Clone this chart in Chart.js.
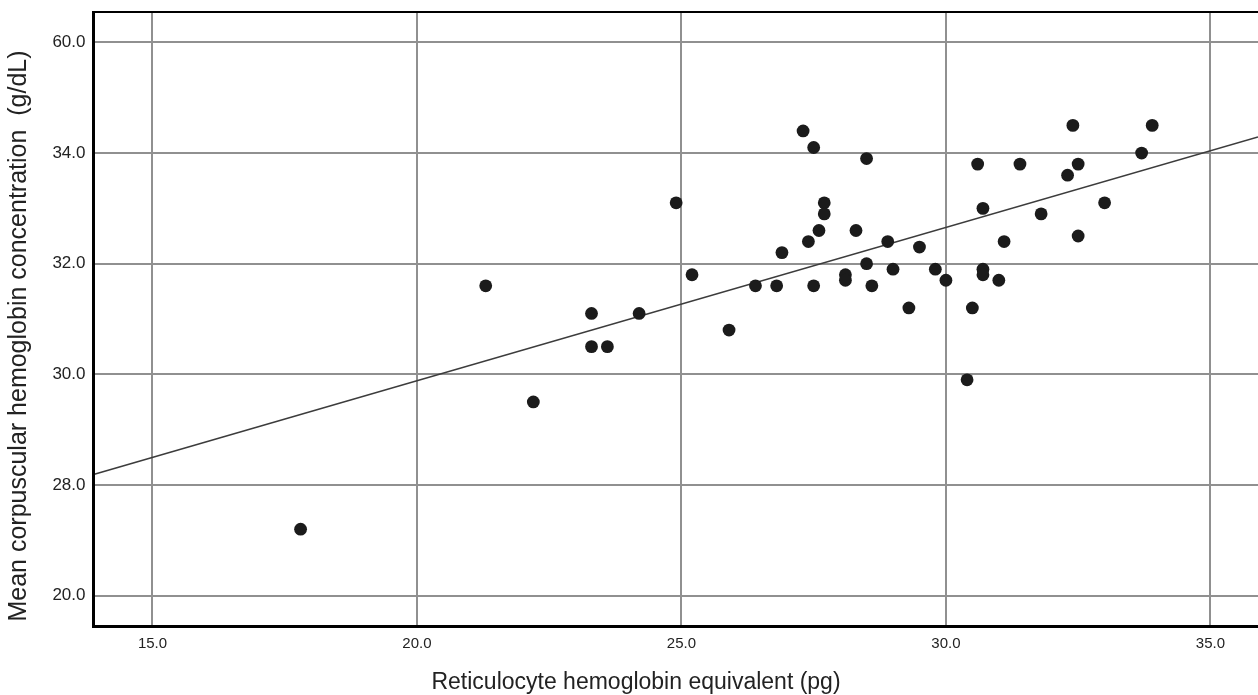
<!DOCTYPE html>
<html>
<head>
<meta charset="utf-8">
<title>Reticulocyte hemoglobin vs MCHC</title>
<script src="https://cdn.jsdelivr.net/npm/chart.js@4.4.1/dist/chart.umd.min.js"></script>
<style>
    html, body { margin: 0; padding: 0; background: #fff; }
    #wrap { width: 1258px; height: 695px; }
</style>
</head>
<body>
<div id="wrap"><canvas id="scatterChart" width="1258" height="695"></canvas></div>
<script>
// Reticulocyte hemoglobin equivalent (pg)
const retHe = [
    17.8, 21.3, 22.2, 23.3, 23.3, 23.6, 24.2, 24.9, 25.2, 25.9,
    26.4, 26.8, 26.9, 27.3, 27.4, 27.5, 27.5, 27.6, 27.7, 27.7,
    28.1, 28.1, 28.3, 28.5, 28.5, 28.6, 28.9, 29.0, 29.3, 29.5,
    29.8, 30.0, 30.4, 30.5, 30.6, 30.7, 30.7, 30.7, 31.0, 31.1,
    31.4, 31.8, 32.3, 32.4, 32.5, 32.5, 33.0, 33.7, 33.9
];
// Mean corpuscular hemoglobin concentration (g/dL)
const mchc = [
    27.2, 31.6, 29.5, 31.1, 30.5, 30.5, 31.1, 33.1, 31.8, 30.8,
    31.6, 31.6, 32.2, 34.4, 32.4, 34.1, 31.6, 32.6, 33.1, 32.9,
    31.8, 31.7, 32.6, 33.9, 32.0, 31.6, 32.4, 31.9, 31.2, 32.3,
    31.9, 31.7, 29.9, 31.2, 33.8, 33.0, 31.9, 31.8, 31.7, 32.4,
    33.8, 32.9, 33.6, 34.5, 33.8, 32.5, 33.1, 34.0, 34.5
];

// fit line end points
const fitX = [13.885, 35.9];
const fitY = [28.19, 34.29];

const xTicks = [15, 20, 25, 30, 35];
const xTickLabels = ['15.0', '20.0', '25.0', '30.0', '35.0'];
const yTicks = [26, 28, 30, 32, 34, 36];
const yTickLabels = ['20.0', '28.0', '30.0', '32.0', '34.0', '60.0'];

const xTitle = 'Reticulocyte hemoglobin equivalent (pg)';
const yTitle = 'Mean corpuscular hemoglobin concentration  (g/dL)';

const FONT = "'Liberation Sans', Arial, sans-serif";

// Frame (left, top, bottom) and the two axis titles
const frameAndTitles = {
    id: 'frameAndTitles',
    afterDraw(chart) {
        const { ctx, chartArea: a } = chart;
        ctx.save();
        ctx.strokeStyle = '#000';

        ctx.lineWidth = 2.2;
        ctx.beginPath();
        ctx.moveTo(a.left, a.top);
        ctx.lineTo(a.right, a.top);
        ctx.stroke();

        ctx.lineWidth = 3;
        ctx.beginPath();
        ctx.moveTo(a.left, a.top - 1);
        ctx.lineTo(a.left, a.bottom);
        ctx.lineTo(a.right, a.bottom);
        ctx.stroke();

        ctx.fillStyle = '#222';
        ctx.textAlign = 'center';
        ctx.textBaseline = 'middle';

        ctx.font = '23px ' + FONT;
        ctx.fillText(xTitle, 636, 683);

        ctx.translate(19, 336);
        ctx.rotate(-Math.PI / 2);
        ctx.font = '25px ' + FONT;
        ctx.fillText(yTitle, 0, 0);
        ctx.restore();
    }
};

const ctx = document.getElementById('scatterChart').getContext('2d');
new Chart(ctx, {
    type: 'scatter',
    data: {
        datasets: [
            {
                label: 'MCHC',
                data: retHe.map((x, i) => ({ x: x, y: mchc[i] })),
                backgroundColor: '#1b1b1b',
                borderWidth: 0,
                pointRadius: 6.4,
                pointHoverRadius: 6.4
            },
            {
                label: 'Fit',
                type: 'line',
                data: fitX.map((x, i) => ({ x: x, y: fitY[i] })),
                borderColor: '#3c3c3c',
                borderWidth: 1.6,
                pointRadius: 0,
                fill: false
            }
        ]
    },
    options: {
        responsive: false,
        animation: false,
        layout: { autoPadding: false, padding: { top: 12, left: 0, right: 0, bottom: 0 } },
        plugins: {
            legend: { display: false },
            tooltip: { enabled: false }
        },
        scales: {
            x: {
                type: 'linear',
                min: 13.885,
                max: 35.9,
                afterFit: scale => {
                    scale.height = 68.5;
                    scale.paddingLeft = 0;
                    scale.paddingRight = 0;
                },
                afterBuildTicks: scale => { scale.ticks = xTicks.map(v => ({ value: v })); },
                border: { display: false },
                grid: { color: '#909090', lineWidth: 2, drawTicks: false },
                ticks: {
                    padding: 8,
                    color: '#222',
                    font: { family: FONT, size: 15 },
                    callback: v => xTickLabels[xTicks.indexOf(v)]
                }
            },
            y: {
                type: 'linear',
                min: 25.44,
                max: 36.55,
                afterFit: scale => {
                    scale.width = 93.5;
                    scale.paddingTop = 0;
                    scale.paddingBottom = 0;
                },
                afterBuildTicks: scale => { scale.ticks = yTicks.map(v => ({ value: v })); },
                border: { display: false },
                grid: { color: '#909090', lineWidth: 2, drawTicks: false },
                ticks: {
                    padding: 8,
                    color: '#222',
                    font: { family: FONT, size: 17 },
                    callback: v => yTickLabels[yTicks.indexOf(v)]
                }
            }
        }
    },
    plugins: [frameAndTitles]
});
</script>
</body>
</html>
